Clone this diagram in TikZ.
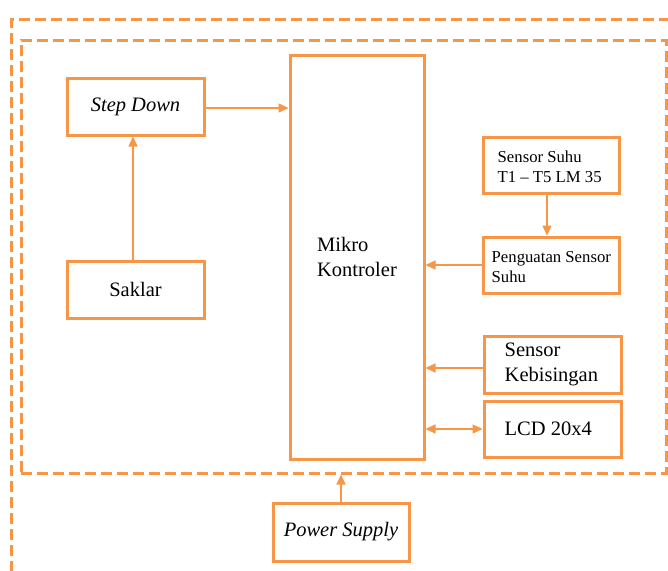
\documentclass[tikz,border=0pt]{standalone}
\usepackage{fontspec}
\setmainfont[Ligatures=TeX]{Liberation Serif}
\newfontfamily\tnr[Ligatures=TeX]{Liberation Serif}
\usetikzlibrary{arrows.meta}
\definecolor{org}{HTML}{F79646}
\begin{document}
\begin{tikzpicture}[x=1pt,y=-1pt,
  box/.style={draw=org,line width=3pt,inner sep=0pt,font=\tnr\fontsize{20.5}{25}\selectfont},
  lbl/.style={anchor=west,align=left,inner sep=0pt,font=\tnr\fontsize{20.5}{25}\selectfont},
  smalllbl/.style={lbl,font=\tnr\fontsize{16.7}{19.5}\selectfont},
  dashbox/.style={draw=org,line width=3pt,dash pattern=on 11pt off 5pt},
  arr/.style={draw=org,line width=1.4pt,-{Triangle[length=10pt,width=9pt]}},
  darr/.style={draw=org,line width=1.4pt,{Triangle[length=10pt,width=9pt]}-{Triangle[length=10pt,width=9pt]}}]
\useasboundingbox (0,0) rectangle (668,570);
\clip (0,0) rectangle (668,570);
% outer dashed frame (continues beyond the picture)
\draw[dashbox] (11.5,700) -- (11.5,19.5) -- (800,19.5);
% inner dashed frame
\node[dashbox,minimum width=645pt,minimum height=433pt,inner sep=0pt] (inner) at (343.5,256.5) {};
% blocks
\node[box,minimum width=134pt,minimum height=404pt,align=left] (mk) at (357,257) {Mikro\\Kontroler};
\node[box,minimum width=137pt,minimum height=57pt] (sd) at (135.5,106.5) {\itshape Step Down};
\node[box,minimum width=137pt,minimum height=57pt] (sk) at (135.5,289.5) {Saklar};
\node[box,minimum width=136pt,minimum height=56pt] (ss) at (551,165) {};
\node[smalllbl] (ssl) at ([xshift=16pt,yshift=-2pt]ss.west) {Sensor Suhu\\T1 – T5 LM 35};
\node[box,minimum width=136pt,minimum height=56pt] (pg) at (551,265) {};
\node[smalllbl] (pgl) at ([xshift=10pt,yshift=-2pt]pg.west) {Penguatan Sensor\\Suhu};
\node[box,minimum width=137pt,minimum height=57pt] (kb) at (552.5,364.5) {};
\node[lbl] (kbl) at ([xshift=22pt]kb.west) {Sensor\\Kebisingan};
\node[box,minimum width=137pt,minimum height=56pt] (lcd) at (552.5,429) {};
\node[lbl] (lcdl) at ([xshift=22pt]lcd.west) {LCD 20x4};
\node[box,minimum width=136pt,minimum height=58pt] (ps) at (341,532) {\itshape Power Supply};
% connectors
\draw[arr] ([yshift=-1.5pt]sd.east) -- ([yshift=-1.5pt]sd.east -| mk.west);
\draw[arr] ([xshift=-2.5pt]sk.north) -- ([xshift=-2.5pt]sd.south);
\draw[arr] ([xshift=-4pt]ss.south) -- ([xshift=-4pt]pg.north);
\draw[arr] (pg.west) -- (pg.west -| mk.east);
\draw[arr] ([yshift=-3.5pt]kb.west) -- ([yshift=-3.5pt]kb.west -| mk.east);
\draw[darr] (lcd.west) -- (lcd.west -| mk.east);
\draw[arr] (ps.north) -- (ps.north |- inner.south);
\end{tikzpicture}
\end{document}
